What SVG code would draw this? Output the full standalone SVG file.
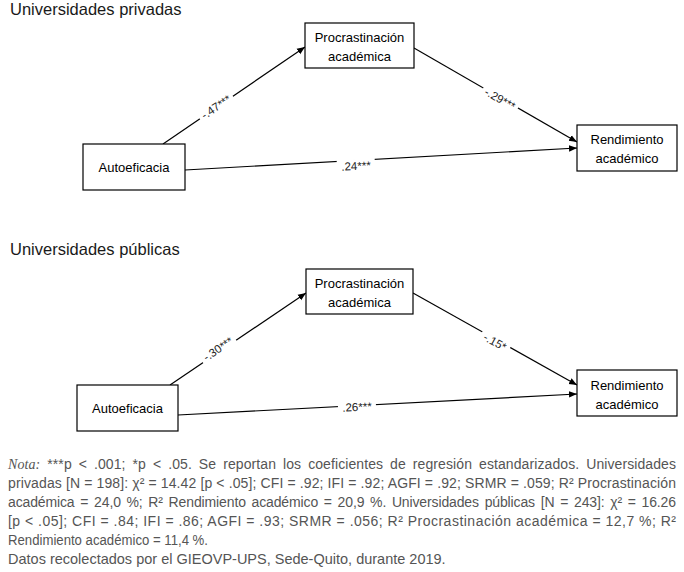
<svg xmlns="http://www.w3.org/2000/svg" width="684" height="572" viewBox="0 0 684 572">
<defs>
<marker id="ah" viewBox="0 0 10 10" refX="10" refY="5" markerWidth="8" markerHeight="8" markerUnits="userSpaceOnUse" orient="auto">
<path d="M0,1 L10,5 L0,9 z" fill="#000"/>
</marker>
<style>
.title{font-family:"Liberation Sans",Arial,sans-serif;font-size:16.5px;fill:#1a1a1a}
.box{fill:#fff;stroke:#000;stroke-width:1.2}
.bt{font-family:"Liberation Sans",Arial,sans-serif;font-size:13px;fill:#000;text-anchor:middle}
.edge{stroke:#000;stroke-width:1.2;fill:none;marker-end:url(#ah)}
.lbl{font-family:"Liberation Sans",Arial,sans-serif;font-size:11.5px;fill:#222;text-anchor:middle}
.note{font-family:"Liberation Sans",Arial,sans-serif;font-size:14px;fill:#555}
.nota{font-family:"Liberation Serif","Times New Roman",serif;font-style:italic}
.datos{font-family:"Liberation Sans",Arial,sans-serif;font-size:14.5px;fill:#555}
</style>
</defs>
<rect width="684" height="572" fill="#fff"/>

<text class="title" x="10" y="15">Universidades privadas</text>
<text class="title" x="10" y="255">Universidades públicas</text>

<g id="connectors">
<line class="edge" x1="163" y1="144" x2="305" y2="47"/>
<line class="edge" x1="414" y1="48" x2="577" y2="142"/>
<line class="edge" x1="185" y1="170" x2="577" y2="148"/>
<line class="edge" x1="170" y1="385" x2="306" y2="293"/>
<line class="edge" x1="413" y1="293" x2="577" y2="385"/>
<line class="edge" x1="178" y1="415" x2="577" y2="394"/>
<g transform="translate(216,107) rotate(-34)"><rect x="-20" y="-7" width="40" height="13" fill="#fff"/><text class="lbl" y="4">-.47***</text></g>
<g transform="translate(500,99) rotate(30)"><rect x="-20" y="-7" width="40" height="13" fill="#fff"/><text class="lbl" y="4">-.29***</text></g>
<g transform="translate(356,166) rotate(-3)"><rect x="-19" y="-7" width="38" height="13" fill="#fff"/><text class="lbl" y="4">.24***</text></g>
<g transform="translate(218,349) rotate(-34)"><rect x="-20" y="-7" width="40" height="13" fill="#fff"/><text class="lbl" y="4">-.30***</text></g>
<g transform="translate(495,342) rotate(29)"><rect x="-16" y="-7" width="32" height="13" fill="#fff"/><text class="lbl" y="4">-.15*</text></g>
<g transform="translate(357,407) rotate(-3)"><rect x="-19" y="-7" width="38" height="13" fill="#fff"/><text class="lbl" y="4">.26***</text></g>
</g>

<g id="priv-proc"><rect class="box" x="305" y="23" width="109" height="45"/><text class="bt" x="359.5" y="41.5">Procrastinación</text><text class="bt" x="359.5" y="60.5">académica</text></g>
<g id="priv-auto"><rect class="box" x="83" y="144" width="102" height="46"/><text class="bt" x="134" y="171.5">Autoeficacia</text></g>
<g id="priv-rend"><rect class="box" x="577" y="125" width="100" height="46"/><text class="bt" x="627" y="143.5">Rendimiento</text><text class="bt" x="627" y="162.5">académico</text></g>

<g id="pub-proc"><rect class="box" x="306" y="269" width="107" height="45"/><text class="bt" x="359.5" y="287.5">Procrastinación</text><text class="bt" x="359.5" y="306.5">académica</text></g>
<g id="pub-auto"><rect class="box" x="77" y="385" width="101" height="46"/><text class="bt" x="127.5" y="412.5">Autoeficacia</text></g>
<g id="pub-rend"><rect class="box" x="577" y="370" width="100" height="46"/><text class="bt" x="627" y="389.5">Rendimiento</text><text class="bt" x="627" y="408.5">académico</text></g>

<g id="note">
<text class="note" x="8" y="469" textLength="668" lengthAdjust="spacing" word-spacing="3"><tspan class="nota">Nota:</tspan> ***p &lt; .001; *p &lt; .05. Se reportan los coeficientes de regresión estandarizados. Universidades</text>
<text class="note" x="8" y="488" textLength="668" lengthAdjust="spacing">privadas [N = 198]: χ² = 14.42 [p &lt; .05]; CFI = .92; IFI = .92; AGFI = .92; SRMR = .059; R² Procrastinación</text>
<text class="note" x="8" y="507" textLength="668" lengthAdjust="spacing" word-spacing="2">académica = 24,0 %; R² Rendimiento académico = 20,9 %. Universidades públicas [N = 243]: χ² = 16.26</text>
<text class="note" x="8" y="526" textLength="668" lengthAdjust="spacing">[p &lt; .05]; CFI = .84; IFI = .86; AGFI = .93; SRMR = .056; R² Procrastinación académica = 12,7 %; R²</text>
<text class="note" x="8" y="545" textLength="200" lengthAdjust="spacingAndGlyphs">Rendimiento académico = 11,4 %.</text>
<text class="datos" x="8" y="564">Datos recolectados por el GIEOVP-UPS, Sede-Quito, durante 2019.</text>
</g>
</svg>
